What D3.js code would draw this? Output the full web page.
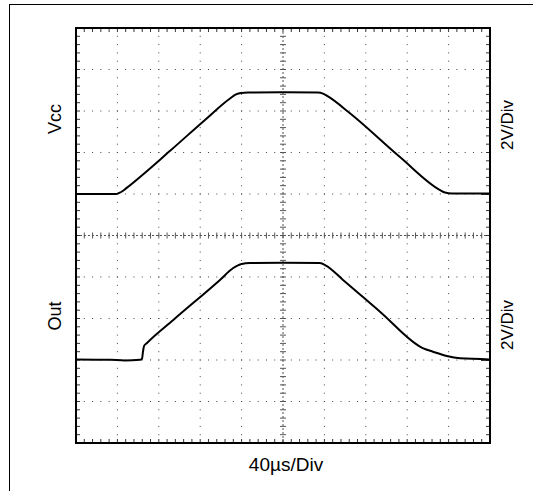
<!DOCTYPE html>
<html>
<head>
<meta charset="utf-8">
<script src="https://cdn.jsdelivr.net/npm/d3@7"></script>
<style>
  html, body { margin: 0; padding: 0; background: #fff; }
  svg { display: block; }
  text { font-family: Arial, "Liberation Sans", sans-serif; fill: #000; }
</style>
</head>
<body>
<script>
// ---- data (time in µs, voltage in V) ----
const vccTime = [0, 38.6, 41.5, 44.4, 48.3, 91.8, 124.6, 148.8, 154.6, 159.4, 166.2, 200, 233.8, 238.6, 243.5, 264.7, 313, 351.7, 356.5, 363.3, 400];
const vccVolt = [0, 0, 0.05, 0.12, 0.27, 2.12, 3.57, 4.6, 4.8, 4.87, 4.89, 4.9, 4.89, 4.84, 4.7, 3.89, 1.78, 0.19, 0.07, 0.02, 0.02];
const outTime = [0, 32.9, 47.3, 61.8, 63.8, 64.7, 65.7, 68.6, 94, 139.1, 151.6, 160.1, 168.1, 200, 235.7, 241.5, 258, 293.7, 335.6, 344.9, 358.2, 371, 400];
const outVolt = [0.03, 0.01, -0.02, 0.01, 0.07, 0.39, 0.67, 0.82, 1.93, 3.86, 4.42, 4.63, 4.67, 4.69, 4.67, 4.55, 3.86, 2.33, 0.56, 0.4, 0.19, 0.08, 0.03];
const channelNames = ["Vcc", "Out"];
const channelScaleLabels = ["2V/Div", "2V/Div"];
const channelGroundDiv = [6, 2];   // ground position, divisions from bottom
const timeLabel = "40µs/Div";
const timeDomain = [0, 400];        // 10 div x 40 µs
const voltsPerDiv = 2;
const nDiv = 10, nMinor = 5;

(function () {
const W = 533, H = 491;
const pL = 76, pR = 490, pT = 28, pB = 443;

const svg = d3.select("body").append("svg").attr("width", W).attr("height", H);

// outer frame
svg.append("rect").attr("x", 9.5).attr("y", 4.5).attr("width", 600).attr("height", 600)
  .attr("fill", "none").attr("stroke", "#000").attr("stroke-width", 1);

const x = d3.scaleLinear().domain(timeDomain).range([pL, pR]);
const yDiv = d3.scaleLinear().domain([0, nDiv]).range([pB, pT]);
const xDiv = d3.scaleLinear().domain([0, nDiv]).range([pL, pR]);

const g = svg.append("g");

// grid dots on major lines at each minor position
const minorSteps = d3.range(0, nDiv * nMinor + 1).map(i => i / nMinor);
for (let i = 1; i < nDiv; i++) {
  if (i === nDiv / 2) continue;
  minorSteps.forEach(m => {
    g.append("rect").attr("x", xDiv(i) - 0.5).attr("y", yDiv(m) - 0.5).attr("width", 1).attr("height", 1).attr("fill", "#444");
    g.append("rect").attr("x", xDiv(m) - 0.5).attr("y", yDiv(i) - 0.5).attr("width", 1).attr("height", 1).attr("fill", "#444");
  });
}

// center crosshair
const cx = xDiv(nDiv / 2), cy = yDiv(nDiv / 2);
g.append("line").attr("x1", pL).attr("x2", pR).attr("y1", cy).attr("y2", cy)
  .attr("stroke", "#555").attr("stroke-width", 1).attr("stroke-dasharray", "2,2");
g.append("line").attr("x1", cx).attr("x2", cx).attr("y1", pT).attr("y2", pB)
  .attr("stroke", "#555").attr("stroke-width", 1).attr("stroke-dasharray", "2,2");
minorSteps.forEach(m => {
  g.append("line").attr("x1", xDiv(m)).attr("x2", xDiv(m)).attr("y1", cy - 3).attr("y2", cy + 3)
    .attr("stroke", "#555").attr("stroke-width", 1);
  g.append("line").attr("x1", cx - 3).attr("x2", cx + 3).attr("y1", yDiv(m)).attr("y2", yDiv(m))
    .attr("stroke", "#555").attr("stroke-width", 1);
});

// border minor ticks
minorSteps.forEach(m => {
  g.append("line").attr("x1", xDiv(m)).attr("x2", xDiv(m)).attr("y1", pT).attr("y2", pT + 4).attr("stroke", "#333");
  g.append("line").attr("x1", xDiv(m)).attr("x2", xDiv(m)).attr("y1", pB).attr("y2", pB - 4).attr("stroke", "#333");
  g.append("line").attr("x1", pL).attr("x2", pL + 4).attr("y1", yDiv(m)).attr("y2", yDiv(m)).attr("stroke", "#333");
  g.append("line").attr("x1", pR).attr("x2", pR - 4).attr("y1", yDiv(m)).attr("y2", yDiv(m)).attr("stroke", "#333");
});

// plot border
g.append("rect").attr("x", pL).attr("y", pT).attr("width", pR - pL).attr("height", pB - pT)
  .attr("fill", "none").attr("stroke", "#000").attr("stroke-width", 2);

// ground markers
channelGroundDiv.forEach(gd => {
  g.append("line").attr("x1", pR - 9).attr("x2", pR).attr("y1", yDiv(gd)).attr("y2", yDiv(gd))
    .attr("stroke", "#000").attr("stroke-width", 1.5);
});

// traces
const series = [
  { t: vccTime, v: vccVolt, ch: 0 },
  { t: outTime, v: outVolt, ch: 1 }
];
series.forEach(s => {
  const pts = s.t.map((t, i) => [t, s.v[i]]);
  const line = d3.line()
    .x(d => x(d[0]))
    .y(d => yDiv(channelGroundDiv[s.ch] + d[1] / voltsPerDiv))
    .curve(d3.curveMonotoneX);
  g.append("path").attr("d", line(pts)).attr("fill", "none")
    .attr("stroke", "#000").attr("stroke-width", 2).attr("stroke-linejoin", "round");
});

// labels
const labelY = [119, 316];
channelNames.forEach((n, i) => {
  svg.append("text").attr("transform", `translate(61,${labelY[i]}) rotate(-90)`)
    .attr("text-anchor", "middle").attr("font-size", 18).text(n);
});
const scaleY = [125, 325];
channelScaleLabels.forEach((n, i) => {
  svg.append("text").attr("transform", `translate(513,${scaleY[i]}) rotate(-90)`)
    .attr("text-anchor", "middle").attr("font-size", 17).text(n);
});
svg.append("text").attr("x", 286).attr("y", 471).attr("text-anchor", "middle")
  .attr("font-size", 19).text(timeLabel);
})();
</script>
</body>
</html>
